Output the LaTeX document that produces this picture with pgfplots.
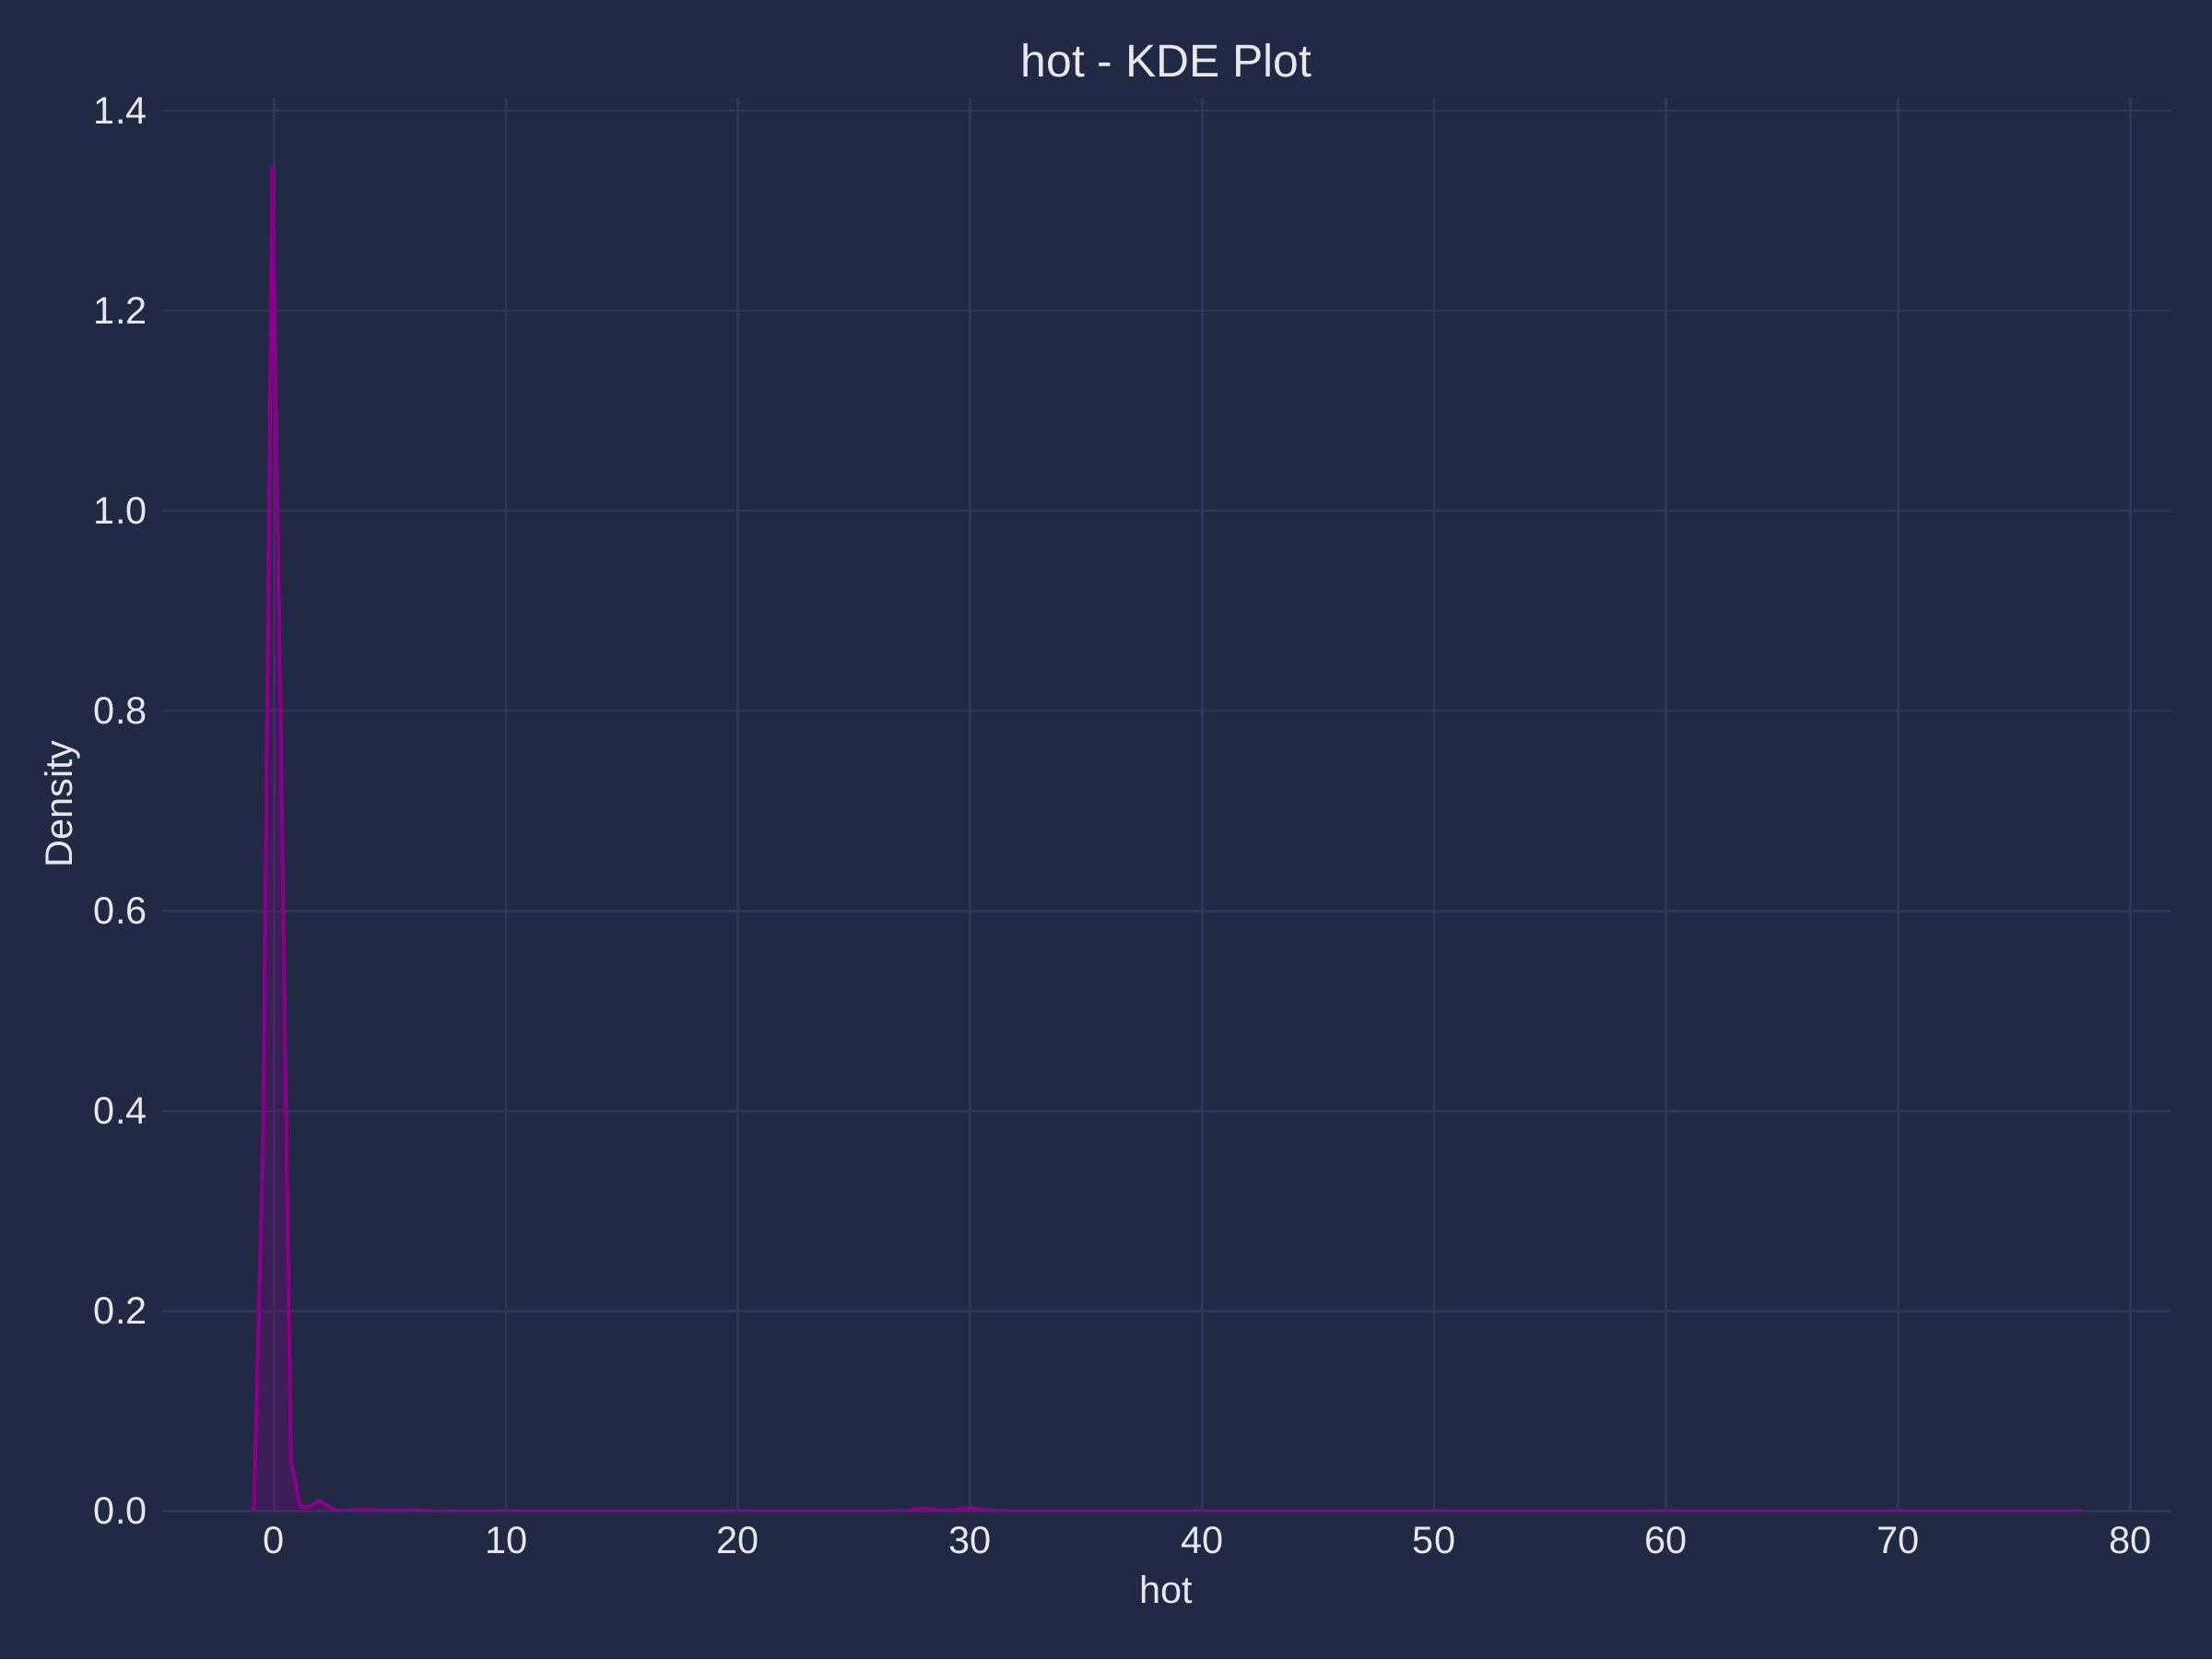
\documentclass[border=0pt]{standalone}
\usepackage{pgfplots}
\pgfplotsset{compat=1.18}
\usepackage{fontspec}
\setmainfont{Liberation Sans}
\definecolor{bg}{HTML}{222945}
\definecolor{gridc}{HTML}{2D375A}
\definecolor{txt}{HTML}{E8E8EC}
\definecolor{curve}{HTML}{8B008B}
\pgfplotstableread{
x y
-0.87 0.0
-0.47 0.370
-0.07 1.345
0.33 0.709
0.73 0.051
1.13 0.004
1.53 0.004
1.93 0.0104
2.33 0.005
2.73 0.0004
3.13 0.0003
3.53 0.0008
3.93 0.0012
4.33 0.0008
4.73 0.0005
5.13 0.0005
5.53 0.0007
5.93 0.0008
6.33 0.0004
6.73 0.0001
7.13 0.0
26.8 0.0
27.2 0.0003
27.6 0.0015
28.0 0.0025
28.4 0.0015
28.8 0.0006
29.2 0.0008
29.6 0.002
30.0 0.003
30.4 0.002
30.8 0.0007
31.2 0.0001
31.6 0.0
77.9 0.0
}\kde
\begin{document}
\begin{tikzpicture}
\fill[bg] (-42.4pt,-38.7pt) rectangle (535.76pt,394.92pt);
\useasboundingbox (-42.4pt,-38.7pt) rectangle (535.76pt,394.92pt);
\begin{axis}[
  at={(0,0)}, anchor=south west,
  scale only axis, width=525pt, height=369.42pt,
  xmin=-4.82, xmax=81.75, ymin=0, ymax=1.413,
  axis line style={draw=none},
  major tick length=0pt,
  xtick={0,10,...,80},
  ytick={0,0.2,...,1.4},
  grid=major,
  major grid style={gridc, line width=0.65pt},
  tick label style={font=\fontsize{10}{12}\selectfont, text=txt},
  /pgf/number format/assume math mode=true,
  xticklabel style={yshift=-0.5pt},
  yticklabel style={xshift=-0.4pt, /pgf/number format/fixed, /pgf/number format/fixed zerofill, /pgf/number format/precision=1},
  title={hot - KDE Plot},
  title style={font=\fontsize{12}{14}\selectfont, text=txt, at={(axis description cs:0.5,1)}, anchor=base, yshift=-0.5pt},
  xlabel={hot},
  ylabel={Density},
  label style={font=\fontsize{10}{12}\selectfont, text=txt},
  xlabel style={at={(axis description cs:0.5,0)}, anchor=base, yshift=-24.1pt},
  ylabel style={at={(axis description cs:-0.04476,0.5)}, anchor=base},
]
\addplot[draw=curve, line width=1pt, fill=curve, fill opacity=0.25, draw opacity=1] table {\kde};
\end{axis}
\end{tikzpicture}
\end{document}
